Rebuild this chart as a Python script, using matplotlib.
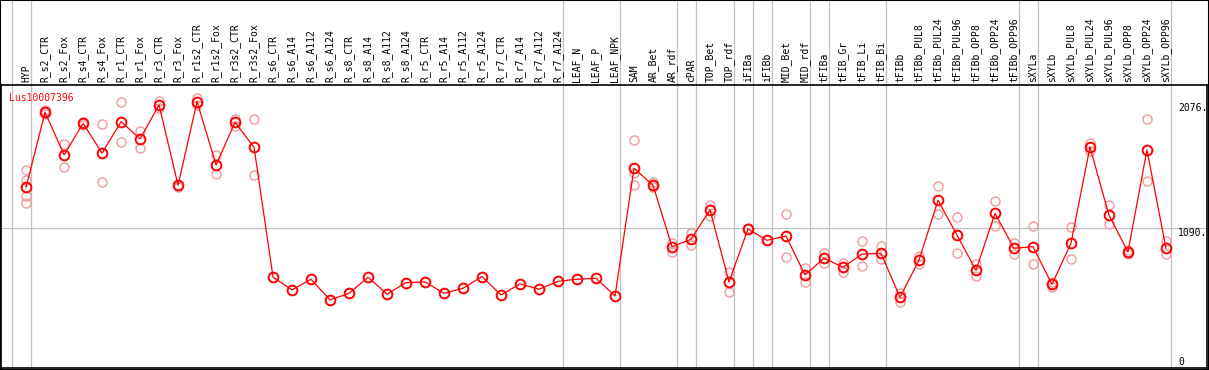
import matplotlib
matplotlib.use("Agg")
import matplotlib.pyplot as plt
from matplotlib.transforms import blended_transform_factory
from matplotlib.patches import Rectangle

# categories along the top
labels = ["HYP", "R_s2_CTR", "R_s2_Fox", "R_s4_CTR", "R_s4_Fox", "R_r1_CTR", "R_r1_Fox",
          "R_r3_CTR", "R_r3_Fox", "R_r1s2_CTR", "R_r1s2_Fox", "R_r3s2_CTR", "R_r3s2_Fox",
          "R_s6_CTR", "R_s6_A14", "R_s6_A112", "R_s6_A124", "R_s8_CTR", "R_s8_A14",
          "R_s8_A112", "R_s8_A124", "R_r5_CTR", "R_r5_A14", "R_r5_A112", "R_r5_A124",
          "R_r7_CTR", "R_r7_A14", "R_r7_A112", "R_r7_A124", "LEAF_N", "LEAF_P", "LEAF_NPK",
          "SAM", "AR_Bet", "AR_rdf", "cPAR", "TOP_Bet", "TOP_rdf", "iFIBa", "iFIBb",
          "MID_Bet", "MID_rdf", "tFIBa", "tFIB_Gr", "tFIB_Li", "tFIB_Bi", "tFIBb",
          "tFIBb_PUL8", "tFIBb_PUL24", "tFIBb_PUL96", "tFIBb_OPP8", "tFIBb_OPP24",
          "tFIBb_OPP96", "sXYLa", "sXYLb", "sXYLb_PUL8", "sXYLb_PUL24", "sXYLb_PUL96",
          "sXYLb_OPP8", "sXYLb_OPP24", "sXYLb_OPP96"]

# mean expression per sample
means = [1410, 2001, 1664, 1914, 1678, 1927, 1791, 2059, 1425, 2085, 1586, 1922, 1724,
         700, 600, 684, 521, 573, 700, 566, 657, 663, 573, 613, 705, 560, 647, 605, 668,
         684, 692, 552,
         1559, 1425, 941, 999, 1231, 663, 1081, 991, 1025, 718, 850, 779, 881, 889, 542,
         834, 1307, 1033, 755, 1204, 928, 941, 644, 968, 1727, 1189, 899, 1704, 928]

# replicate values (empty where they sit on the mean)
reps = [[1546, 1467, 1343, 1283], [2020, 1990], [1749, 1567], [1927, 1901], [1906, 1449],
        [2085, 1765], [1856, 1717], [2091, 2033], [1430, 1415], [2117, 2059], [1664, 1512],
        [1946, 1896], [1946, 1504],
        [], [], [], [], [], [], [], [], [], [], [], [], [], [], [], [], [], [], [],
        [1780, 1520, 1425], [1454, 1410], [973, 897], [1047, 957], [1270, 1183], [744, 584],
        [1090], [991], [1197, 860], [771, 663], [894, 815], [815, 744], [984, 789],
        [947, 842], [578, 507], [870, 802], [1417, 1197], [1173, 889], [802, 708],
        [1299, 1102], [973, 881], [1102, 802], [665, 620], [1094, 842], [1762, 1696],
        [1268, 1120], [915, 881], [1946, 1457], [984, 881]]

# last index of each sample group (gray separators)
group_ends = [-1, 0, 28, 31, 34, 35, 37, 38, 39, 41, 42, 45, 52, 53, 60]

gene = "Lus10007396"
ref_ticks = [2076, 1090]

mono = "DejaVu Sans Mono"

fig = plt.figure(figsize=(12.09, 3.70), dpi=100)
ax = fig.add_axes([1 / 1209, 2 / 370, 1206 / 1209, 283 / 370])

x = list(range(len(labels)))

for i, vals in enumerate(reps):
    if vals:
        ax.plot([i] * len(vals), vals, linestyle="none", marker="o", ms=6.5,
                mfc="none", mec="#f09a9a", mew=1.0, zorder=2)

ax.plot(x, means, color="red", lw=0.9, marker="o", ms=7, mfc="none",
        mec="red", mew=1.4, zorder=3)

ax.set_xlim(-1.32, 62.16)
ax.set_ylim(-16, 2216)

# separators run from the top of the figure down
for g in group_ends:
    ax.axvline(g + 0.24, ymin=0, ymax=1 + 85 / 283, color="#c0c0c0", lw=0.9,
               clip_on=False, zorder=1)

ax.axhline(1090, color="#c0c0c0", lw=0.9, zorder=1)

trans = blended_transform_factory(ax.transData, ax.transAxes)
for i, lab in enumerate(labels):
    ax.text(i, 1 + 3 / 283, lab, transform=trans, rotation=90, ha="center",
            va="bottom", fontsize=7, family=mono)

for t in ref_ticks:
    ax.text(60.63, t, f"{t}.", ha="left", va="top", fontsize=7, family=mono)
ax.text(60.63, 35, "0", ha="left", va="center", fontsize=7, family=mono)

ax.text(0.007, 0.955, gene, transform=ax.transAxes, color="red", ha="left",
        va="center", fontsize=7, family=mono)

ax.set_xticks([])
ax.set_yticks([])
for s in ax.spines.values():
    s.set_color("black")
    s.set_linewidth(1.2)

# outer frame of the whole picture
fig.patches.append(Rectangle((0, 0), 1, 1, transform=fig.transFigure, fill=False,
                             edgecolor="black", lw=1.5))

fig.savefig("out.png", dpi=100)
